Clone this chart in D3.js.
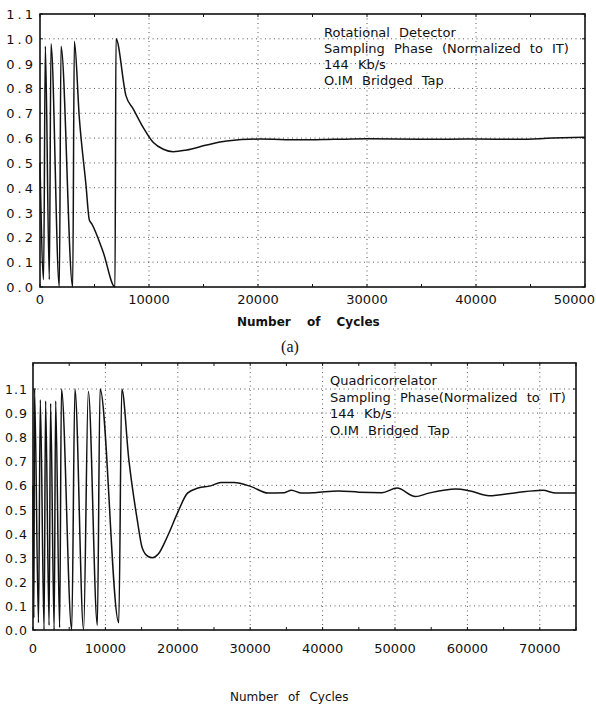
<!DOCTYPE html>
<html>
<head>
<meta charset="utf-8">
<script src="https://cdn.jsdelivr.net/npm/d3@7"></script>
<style>
  body { margin: 0; background: #fff; }
  text { font-family: "DejaVu Sans", sans-serif; fill: #111; }
</style>
</head>
<body>
<div id="chart"></div>
<script>
// (a) rotational detector, sampling phase vs cycles
const rotCycles = [0, 330, 490, 856, 1009, 1774, 1927, 3000, 3150, 3610,
  4220, 4526, 4740, 5800, 6880, 6970, 7890, 8560, 9480, 10400,
  11315, 12230, 13460, 15290, 17125, 20183, 23850, 27000, 30000, 35000,
  40000, 44000, 47000, 50000];
const rotPhase = [0.5, 0.03, 0.97, 0.03, 0.98, 0.0, 0.97, 0.0, 0.99, 0.68,
  0.41, 0.27, 0.255, 0.14, 0.0, 1.0, 0.77, 0.717, 0.642, 0.582,
  0.555, 0.545, 0.552, 0.572, 0.588, 0.596, 0.593, 0.595, 0.597, 0.595,
  0.596, 0.595, 0.600, 0.603];

// (b) quadricorrelator
const quadCycles = [0, 120, 210, 760, 1010, 1530, 1740, 2220, 2430, 2920,
  3130, 3680, 3930, 5350, 5790, 6990, 7640, 8890, 9260, 11850,
  12260, 13240, 14400, 15090, 15900, 16500, 17300, 18560, 19950, 21340,
  22800, 24500, 25970, 27780, 30140, 32450, 34720, 35690, 37080, 38940,
  42180, 45000, 48190, 50280, 52820, 54680, 58400, 60240, 63010, 66720,
  70420, 72220, 75000];
const quadPhase = [0.6, 0.05, 1.0, 0.03, 0.955, 0.0, 0.95, 0.02, 0.94, 0.0,
  0.95, 0.01, 1.0, 0.0, 1.0, 0.0, 0.99, 0.02, 1.0, 0.03,
  1.0, 0.706, 0.457, 0.34, 0.305, 0.30, 0.315, 0.388, 0.485, 0.568,
  0.589, 0.598, 0.612, 0.612, 0.595, 0.568, 0.57, 0.58, 0.568, 0.57,
  0.577, 0.572, 0.57, 0.589, 0.554, 0.568, 0.585, 0.578, 0.557, 0.57,
  0.58, 0.568, 0.568];

// ticks / labels
const xTicksA = [0, 10000, 20000, 30000, 40000, 50000];
const xTicksB = [0, 10000, 20000, 30000, 40000, 50000, 60000, 70000];
const yTicksA = [0, 0.1, 0.2, 0.3, 0.4, 0.5, 0.6, 0.7, 0.8, 0.9, 1.0, 1.1];
const yLabelsA = ["0.0", "0.1", "0.2", "0.3", "0.4", "0.5", "0.6", "0.7", "0.8", "0.9", "1.0", "1.1"];
const yTicksB = [0, 0.1, 0.2, 0.3, 0.4, 0.5, 0.6, 0.7, 0.8, 0.9, 1.0];
const yLabelsB = ["0.0", "0.1", "0.2", "0.3", "0.4", "0.5", "0.6", "0.7", "0.8", "0.9", "1.1"];

const legendA = ["Rotational Detector", "Sampling Phase (Normalized to \u0399T)", "144 Kb/s", "O.IM Bridged Tap"];
const legendB = ["Quadricorrelator", "Sampling Phase(Normalized to \u0399T)", "144 Kb/s", "O.IM Bridged Tap"];

const width = 596, height = 707;

const svg = d3.select("#chart")
  .append("svg")
  .attr("width", width)
  .attr("height", height);

function drawPanel(p) {
  const g = svg.append("g");
  const x = p.x, y = p.y;
  const [x0, x1] = x.range();
  const yb = y(0), yt = p.top;

  // dotted grid
  g.selectAll(".vgrid")
    .data(p.xGrid)
    .enter()
    .append("line")
    .attr("x1", d => x(d)).attr("x2", d => x(d))
    .attr("y1", yt).attr("y2", yb)
    .attr("stroke", "#444")
    .attr("stroke-width", 0.9)
    .attr("stroke-dasharray", "1,3.5");

  g.selectAll(".hgrid")
    .data(p.yGrid)
    .enter()
    .append("line")
    .attr("x1", x0).attr("x2", x1)
    .attr("y1", d => y(d)).attr("y2", d => y(d))
    .attr("stroke", "#444")
    .attr("stroke-width", 0.9)
    .attr("stroke-dasharray", "1,3.5");

  // small inner ticks
  const minorX = d3.range(0, x.domain()[1] + 1, 5000);
  g.selectAll(".tt")
    .data(minorX)
    .enter()
    .append("path")
    .attr("d", d => `M${x(d)},${yt}v3M${x(d)},${yb}v-3`)
    .attr("stroke", "#111")
    .attr("stroke-width", 1);
  g.selectAll(".ty")
    .data(p.yTicks)
    .enter()
    .append("path")
    .attr("d", d => `M${x0},${y(d)}h3M${x1},${y(d)}h-3`)
    .attr("stroke", "#111")
    .attr("stroke-width", 1);

  // frame
  g.append("rect")
    .attr("x", x0).attr("y", yt)
    .attr("width", x1 - x0).attr("height", yb - yt)
    .attr("fill", "none")
    .attr("stroke", "#111")
    .attr("stroke-width", 1.6);

  // curve
  const line = d3.line()
    .x(d => x(d[0]))
    .y(d => y(d[1]))
    .curve(d3.curveMonotoneX);

  g.append("path")
    .datum(d3.zip(p.cycles, p.phase))
    .attr("d", line)
    .attr("fill", "none")
    .attr("stroke", "#111")
    .attr("stroke-width", 1.5)
    .attr("stroke-linejoin", "round");

  // tick labels
  const nX = p.xTicks.length;
  g.selectAll(".xl")
    .data(p.xTicks)
    .enter()
    .append("text")
    .attr("x", (d, i) => (i === nX - 1 && p.lastLabelX) ? p.lastLabelX : x(d))
    .attr("y", p.xLabelY)
    .attr("text-anchor", (d, i) => (i === nX - 1 && p.lastLabelX) ? "end" : "middle")
    .style("font-size", "13px")
    .text(d => d);

  g.selectAll(".yl")
    .data(p.yTicks)
    .enter()
    .append("text")
    .attr("x", p.yLabelX)
    .attr("y", d => y(d) + 5)
    .attr("text-anchor", "end")
    .style("font-size", p.yLabelSize)
    .style("letter-spacing", p.yLabelSpacing)
    .text((d, i) => p.yLabels[i]);

  // legend block
  g.selectAll(".lg")
    .data(p.legend)
    .enter()
    .append("text")
    .attr("x", p.legendX)
    .attr("y", (d, i) => p.legendY + i * p.legendStep)
    .style("font-size", "13px")
    .style("word-spacing", "5px")
    .text(d => d);

  return g;
}

// panel (a)
drawPanel({
  x: d3.scaleLinear().domain([0, 50000]).range([40, 585]),
  y: d3.scaleLinear().domain([0, 1.1]).range([287, 14]),
  top: 14,
  cycles: rotCycles, phase: rotPhase,
  xGrid: [10000, 20000, 30000, 40000],
  yGrid: [0.1, 0.2, 0.3, 0.4, 0.5, 0.6, 0.7, 0.8, 0.9, 1.0],
  xTicks: xTicksA, yTicks: yTicksA, yLabels: yLabelsA,
  xLabelY: 304, lastLabelX: 595,
  yLabelX: 36, yLabelSize: "13px", yLabelSpacing: "3px",
  legend: legendA, legendX: 324, legendY: 37, legendStep: 16
});

// panel (b)
const yB = d3.scaleLinear().domain([0, 1]).range([630, 389]);
drawPanel({
  x: d3.scaleLinear().domain([0, 75000]).range([33, 576]),
  y: yB,
  top: yB(1.108),
  cycles: quadCycles, phase: quadPhase,
  xGrid: [10000, 20000, 30000, 40000, 50000, 60000, 70000],
  yGrid: [0.1, 0.2, 0.3, 0.4, 0.5, 0.6, 0.7, 0.8, 0.9, 1.0],
  xTicks: xTicksB, yTicks: yTicksB, yLabels: yLabelsB,
  xLabelY: 653,
  yLabelX: 28, yLabelSize: "12.5px", yLabelSpacing: "1px",
  legend: legendB, legendX: 330, legendY: 385, legendStep: 16.5
});

// axis titles
svg.append("text")
  .attr("x", 237).attr("y", 326)
  .style("font-size", "12px")
  .style("font-weight", "bold")
  .style("word-spacing", "12px")
  .text("Number of Cycles");

svg.append("text")
  .attr("x", 290).attr("y", 352)
  .attr("text-anchor", "middle")
  .style("font-family", "'Liberation Serif', serif")
  .style("font-size", "16px")
  .text("(a)");

svg.append("text")
  .attr("x", 230).attr("y", 701)
  .style("font-size", "12px")
  .style("word-spacing", "6px")
  .text("Number of Cycles");
</script>
</body>
</html>
